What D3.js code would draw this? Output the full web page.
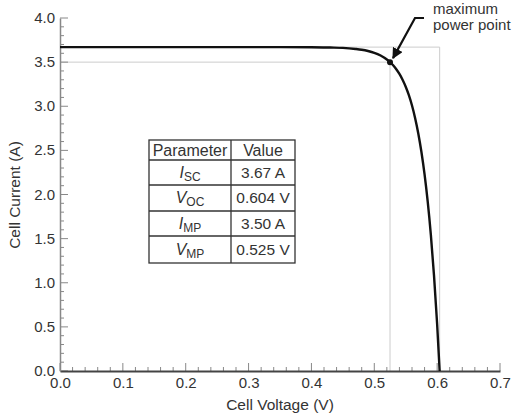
<!DOCTYPE html>
<html><head><meta charset="utf-8">
<script src="https://cdn.jsdelivr.net/npm/d3@7/dist/d3.min.js"></script>
<style>body{margin:0;background:#fff}svg{display:block;font-family:"Liberation Sans",Arial,sans-serif}</style>
</head><body><svg id="c" width="514" height="419"></svg>
<script>
// Data
const voltage = [0, 0.05, 0.1, 0.15, 0.2, 0.25, 0.3, 0.35, 0.4, 0.43, 0.45, 0.47, 0.48, 0.49, 0.50, 0.51, 0.52, 0.525, 0.53, 0.535, 0.54, 0.545, 0.55, 0.555, 0.56, 0.565, 0.57, 0.575, 0.58, 0.585, 0.59, 0.595, 0.60, 0.604];
const current = [3.67, 3.67, 3.67, 3.67, 3.67, 3.67, 3.67, 3.67, 3.669, 3.665, 3.661, 3.649, 3.640, 3.626, 3.606, 3.575, 3.530, 3.50, 3.464, 3.42, 3.366, 3.30, 3.221, 3.125, 3.008, 2.865, 2.692, 2.482, 2.228, 1.918, 1.542, 1.084, 0.530, 0];
const xTicks = [0, 0.1, 0.2, 0.3, 0.4, 0.5, 0.6, 0.7];
const yTicks = [0, 0.5, 1.0, 1.5, 2.0, 2.5, 3.0, 3.5, 4.0];
const Isc = 3.67, Voc = 0.604, Imp = 3.50, Vmp = 0.525;
const paramNames = [["I","SC"],["V","OC"],["I","MP"],["V","MP"]];
const paramValues = ["3.67 A","0.604 V","3.50 A","0.525 V"];

const svg = d3.select("#c");
const x = d3.scaleLinear().domain([0, 0.7]).range([60, 500]);
const y = d3.scaleLinear().domain([0, 4.0]).range([371, 18]);
const txt = "#333";
const FF = "Liberation Sans, Arial, sans-serif";

// reference rectangles
svg.append("path").attr("fill","none").attr("stroke","#ccc").attr("stroke-width",1)
  .attr("d", `M${x(0)},${y(Isc)}H${x(Voc)}V${y(0)}`);
svg.append("path").attr("fill","none").attr("stroke","#ccc").attr("stroke-width",1)
  .attr("d", `M${x(0)},${y(Imp)}H${x(Vmp)}V${y(0)}`);

// minor ticks
const gx = svg.append("g");
d3.range(0, 0.7001, 0.02).forEach(v => {
  const major = Math.abs(v*10 - Math.round(v*10)) < 1e-6;
  gx.append("line").attr("x1", x(v)).attr("x2", x(v)).attr("y1", y(0)).attr("y2", y(0) - (major ? 8 : 4))
    .attr("stroke", "#888").attr("stroke-width", 1);
});
d3.range(0, 4.0001, 0.1).forEach(v => {
  const major = Math.abs(v*2 - Math.round(v*2)) < 1e-6;
  gx.append("line").attr("y1", y(v)).attr("y2", y(v)).attr("x1", x(0)).attr("x2", x(0) + (major ? 8 : 4))
    .attr("stroke", "#888").attr("stroke-width", 1);
});

// axes
const xAxis = svg.append("g").attr("transform", `translate(0,${y(0)})`)
  .call(d3.axisBottom(x).tickValues(xTicks).tickFormat(d3.format(".1f")).tickSize(0).tickPadding(6));
xAxis.select(".domain").attr("stroke", "#444").attr("stroke-width", 2.2);
xAxis.selectAll("text").attr("font-size", 15).attr("fill", txt).attr("font-family", FF);

const yAxis = svg.append("g").attr("transform", `translate(${x(0)},0)`)
  .call(d3.axisLeft(y).tickValues(yTicks).tickFormat(d3.format(".1f")).tickSize(0).tickPadding(5));
yAxis.select(".domain").attr("stroke", "#888").attr("stroke-width", 1.5);
yAxis.selectAll("text").attr("font-size", 15).attr("fill", txt).attr("font-family", FF).attr("dy", "0.3em");

// curve
svg.append("path").datum(voltage.map((v,i)=>[v, current[i]]))
  .attr("fill","none").attr("stroke","#111").attr("stroke-width",2.4)
  .attr("d", d3.line().x(d=>x(d[0])).y(d=>y(d[1])).curve(d3.curveMonotoneX));
svg.append("circle").attr("cx", x(Vmp)).attr("cy", y(Imp)).attr("r", 3).attr("fill", "#111");

// annotation arrow
const defs = svg.append("defs");
defs.append("marker").attr("id","ah").attr("viewBox","0 0 10 10").attr("refX",9).attr("refY",5)
  .attr("markerWidth",5).attr("markerHeight",5).attr("orient","auto")
  .append("path").attr("d","M0,0L10,5L0,10z").attr("fill","#111");
svg.append("path").attr("d", `M424,18H415L${x(Vmp)+3},${y(Imp)-4}`)
  .attr("fill","none").attr("stroke","#111").attr("stroke-width",2.2).attr("marker-end","url(#ah)");
svg.append("text").attr("x",433).attr("y",14).attr("font-size",15).attr("fill",txt).text("maximum");
svg.append("text").attr("x",433).attr("y",30).attr("font-size",15).attr("fill",txt).text("power point");

// axis titles
svg.append("text").attr("x", 280).attr("y", 410).attr("text-anchor","middle").attr("font-size",15.5).attr("fill",txt).text("Cell Voltage (V)");
svg.append("text").attr("transform","translate(20,195) rotate(-90)").attr("text-anchor","middle").attr("font-size",15.5).attr("fill",txt).text("Cell Current (A)");

// parameter table
const tx0 = 149, tx1 = 231, tx2 = 295;
const rows = [140, 160, 185, 211, 236, 263];
const tg = svg.append("g");
tg.append("rect").attr("x",tx0).attr("y",rows[0]).attr("width",tx2-tx0).attr("height",rows[5]-rows[0])
  .attr("fill","#fff").attr("stroke","#333").attr("stroke-width",1.3);
rows.slice(1,5).forEach(r => tg.append("line").attr("x1",tx0).attr("x2",tx2).attr("y1",r).attr("y2",r).attr("stroke","#333").attr("stroke-width",1.3));
tg.append("line").attr("x1",tx1).attr("x2",tx1).attr("y1",rows[0]).attr("y2",rows[5]).attr("stroke","#333").attr("stroke-width",1.3);
tg.append("text").attr("x",(tx0+tx1)/2).attr("y",156).attr("text-anchor","middle").attr("font-size",16).attr("fill",txt).text("Parameter");
tg.append("text").attr("x",(tx1+tx2)/2).attr("y",156).attr("text-anchor","middle").attr("font-size",16).attr("fill",txt).text("Value");
paramNames.forEach((p,i) => {
  const cy = (rows[i+1]+rows[i+2])/2 + 5;
  const t = tg.append("text").attr("x",(tx0+tx1)/2).attr("y",cy).attr("text-anchor","middle").attr("font-size",16).attr("fill",txt);
  t.append("tspan").attr("font-style","italic").text(p[0]);
  t.append("tspan").attr("font-size",12).attr("dy",3).text(p[1]);
  tg.append("text").attr("x",(tx1+tx2)/2).attr("y",cy).attr("text-anchor","middle").attr("font-size",15.5).attr("fill",txt).text(paramValues[i]);
});
</script></body></html>
